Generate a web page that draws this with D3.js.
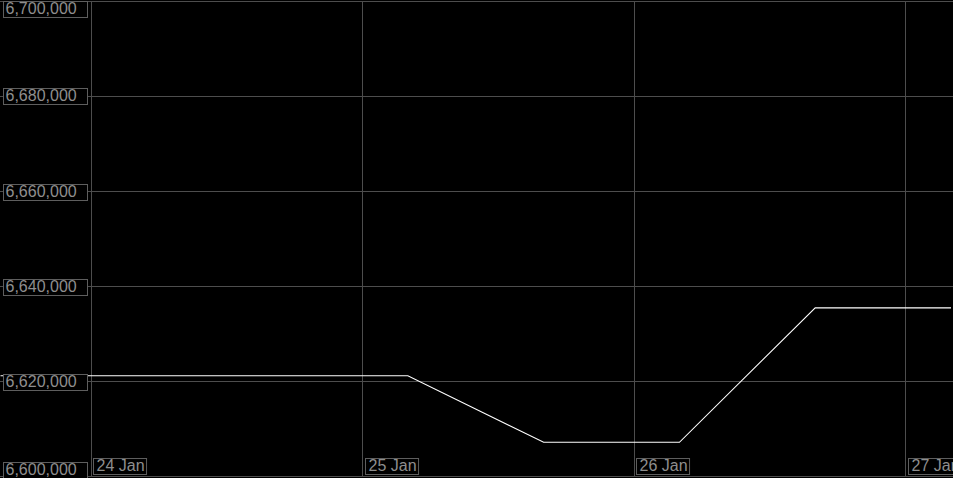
<!DOCTYPE html>
<html>
<head>
<meta charset="utf-8">
<script src="https://cdn.jsdelivr.net/npm/d3@7"></script>
<style>
  html, body { margin: 0; padding: 0; background: #000; overflow: hidden; }
  svg { display: block; }
</style>
</head>
<body>
<svg id="chart" width="953" height="478"></svg>
<script>
// ---- data ----
const times = [
  "2024-01-23T16:00", "2024-01-24T04:00", "2024-01-24T16:00", "2024-01-25T04:00",
  "2024-01-25T16:00", "2024-01-26T04:00", "2024-01-26T16:00", "2024-01-27T04:00"
];
const values = [6621200, 6621200, 6621200, 6621200, 6607200, 6607200, 6635500, 6635500];
const yTicks = [6600000, 6620000, 6640000, 6660000, 6680000, 6700000];
const xTicks = ["2024-01-24", "2024-01-25", "2024-01-26", "2024-01-27"];
const xTickLabels = ["24 Jan", "25 Jan", "26 Jan", "27 Jan"];

const W = 953, H = 478;
const parse = d3.isoParse;
const data = times.map((t, i) => ({ t: parse(t), v: values[i] }));

const x = d3.scaleTime()
  .domain([parse("2024-01-23T16:00"), parse("2024-01-27T04:00")])
  .range([0.5, 951]);
const y = d3.scaleLinear().domain([6600000, 6700000]).range([476.5, 1.5]);

const svg = d3.select("#chart");
svg.append("rect").attr("width", W).attr("height", H).attr("fill", "#000");

const gridColor = "#4d4d4d";
const fontFam = "'Liberation Sans', Arial, sans-serif";

// horizontal grid
svg.append("g").selectAll("line").data(yTicks).join("line")
  .attr("x1", 0).attr("x2", W)
  .attr("y1", d => Math.round(y(d) - 0.5) + 0.5)
  .attr("y2", d => Math.round(y(d) - 0.5) + 0.5)
  .attr("stroke", gridColor).attr("stroke-width", 1);

// vertical grid
svg.append("g").selectAll("line").data(xTicks).join("line")
  .attr("x1", d => Math.round(x(parse(d)) - 0.5) + 0.5)
  .attr("x2", d => Math.round(x(parse(d)) - 0.5) + 0.5)
  .attr("y1", y(6700000)).attr("y2", y(6600000))
  .attr("stroke", gridColor).attr("stroke-width", 1);

// line
const line = d3.line().x(d => x(d.t)).y(d => y(d.v));
svg.append("path").datum(data)
  .attr("d", line)
  .attr("fill", "none")
  .attr("stroke", "#ffffff")
  .attr("stroke-width", 1.1);

// y labels
const fmt = d3.format(",");
const boxH = 16;
const yl = svg.append("g").selectAll("g").data(yTicks).join("g")
  .attr("transform", d => {
    let top = y(d) - boxH / 2;
    top = Math.max(0.5, Math.min(H - boxH - 0.5, top));
    return `translate(0,${Math.round(top) + 0.5})`;
  });
yl.append("rect")
  .attr("x", 3.5).attr("y", 0).attr("width", 84).attr("height", boxH)
  .attr("fill", "#000").attr("stroke", "#5e5e5e").attr("stroke-width", 1);
yl.append("text")
  .attr("x", 5.5).attr("y", boxH / 2 + 0.5)
  .attr("dominant-baseline", "middle")
  .attr("font-family", fontFam).attr("font-size", 16)
  .attr("fill", "#8e8e8e")
  .text(d => fmt(d));

// x labels
const xl = svg.append("g").selectAll("g").data(xTicks).join("g")
  .attr("transform", d => `translate(${Math.round(x(parse(d))) + 2.5},458.5)`);
const xt = xl.append("text")
  .attr("x", 3).attr("y", boxH / 2 + 0.5)
  .attr("dominant-baseline", "middle")
  .attr("font-family", fontFam).attr("font-size", 16)
  .attr("fill", "#8e8e8e")
  .text((d, i) => xTickLabels[i]);
xl.insert("rect", "text")
  .attr("x", 0).attr("y", 0)
  .attr("width", function() { return this.parentNode.querySelector("text").getComputedTextLength() + 5; })
  .attr("height", boxH)
  .attr("fill", "#000").attr("stroke", "#5e5e5e").attr("stroke-width", 1);
</script>
</body>
</html>
